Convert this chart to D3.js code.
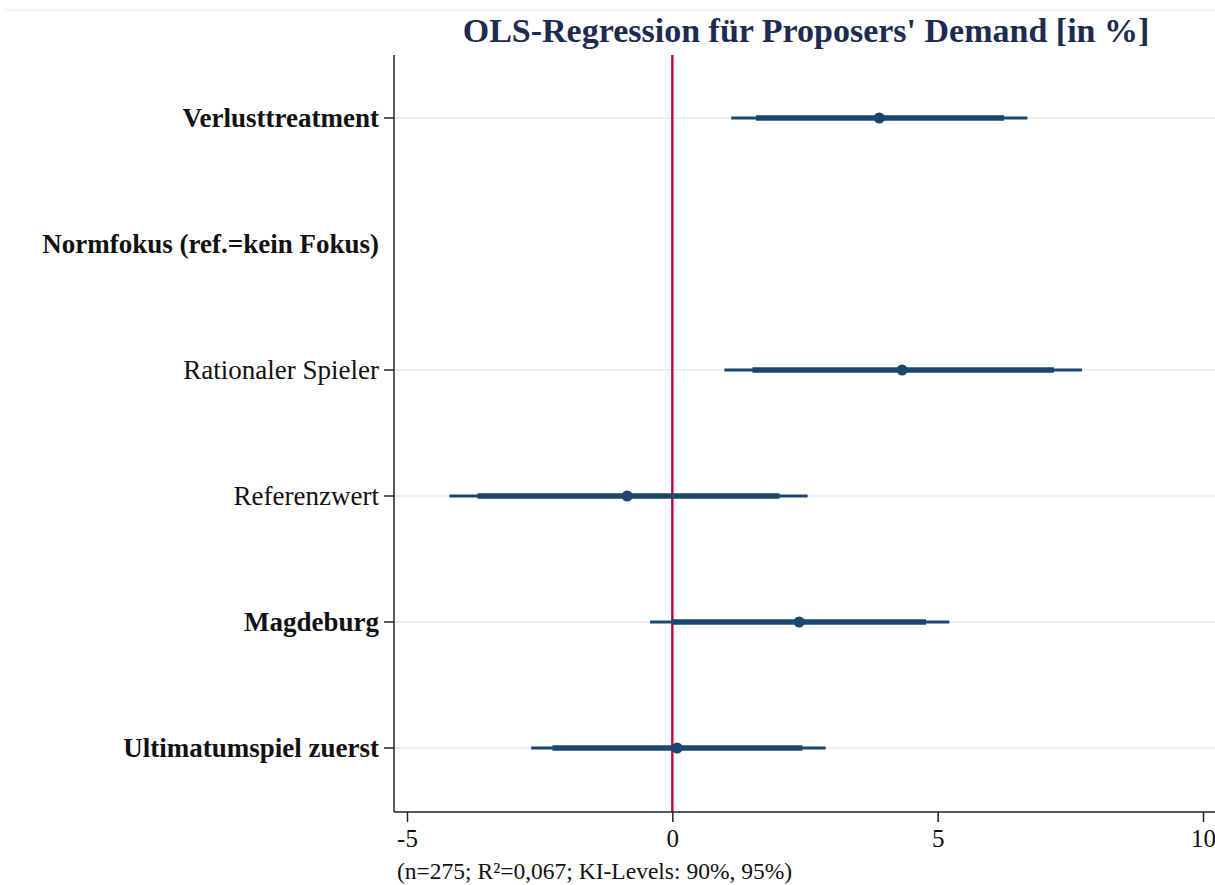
<!DOCTYPE html>
<html>
<head>
<meta charset="utf-8">
<script src="https://cdn.jsdelivr.net/npm/d3@7"></script>
<style>
  body { margin: 0; background: #fff; }
  svg { display: block; font-family: "Liberation Serif", "DejaVu Serif", serif; }
</style>
</head>
<body>
<svg id="chart"></svg>
<script>
// coefficient rows, top to bottom (null = header row without estimate)
const labels = ["Verlusttreatment", "Normfokus (ref.=kein Fokus)", "Rationaler Spieler", "Referenzwert", "Magdeburg", "Ultimatumspiel zuerst"];
const boldRow = [true, true, false, false, true, true];
const coef = [3.90, null, 4.33, -0.85, 2.39, 0.09];
const lo95 = [1.11, null, 0.98, -4.20, -0.42, -2.66];
const hi95 = [6.69, null, 7.72, 2.55, 5.22, 2.89];
const lo90 = [1.58, null, 1.51, -3.67, 0.00, -2.26];
const hi90 = [6.25, null, 7.19, 2.02, 4.78, 2.45];
const xTicks = [-5, 0, 5, 10];

const W = 1215, H = 885;
const svg = d3.select("#chart").attr("width", W).attr("height", H);

const plotL = 394, plotR = 1215, plotT = 55, plotB = 812;
const navy = "#1a476f";

const x = d3.scaleLinear().domain([-5, 10]).range([407, 1203]);
const y = d3.scaleBand().domain(d3.range(labels.length)).range([55, 811]);
const yc = i => y(i) + y.bandwidth() / 2;

// outer frame line at top
svg.append("line").attr("x1", 5).attr("x2", W).attr("y1", 10).attr("y2", 10)
  .attr("stroke", "#eceff1").attr("stroke-width", 1.5);

// title
svg.append("text").attr("x", 806).attr("y", 42).attr("text-anchor", "middle")
  .attr("font-size", 34).attr("font-weight", "bold").attr("fill", "#1e2b50")
  .text("OLS-Regression für Proposers' Demand [in %]");

const rows = d3.range(labels.length);
const est = rows.filter(i => coef[i] !== null);

// gridlines
svg.append("g").selectAll("line").data(est).join("line")
  .attr("x1", plotL).attr("x2", plotR).attr("y1", yc).attr("y2", yc)
  .attr("stroke", "#eaf0f2").attr("stroke-width", 2);

// zero line
svg.append("line").attr("x1", x(0)).attr("x2", x(0)).attr("y1", plotT).attr("y2", plotB)
  .attr("stroke", "#c10534").attr("stroke-width", 2.4);

// CIs
svg.append("g").selectAll("line").data(est).join("line")
  .attr("x1", i => x(lo95[i])).attr("x2", i => x(hi95[i]))
  .attr("y1", yc).attr("y2", yc).attr("stroke", navy).attr("stroke-width", 3);
svg.append("g").selectAll("line").data(est).join("line")
  .attr("x1", i => x(lo90[i])).attr("x2", i => x(hi90[i]))
  .attr("y1", yc).attr("y2", yc).attr("stroke", navy).attr("stroke-width", 5.5);

// markers
svg.append("g").selectAll("circle").data(est).join("circle")
  .attr("cx", i => x(coef[i])).attr("cy", yc).attr("r", 5.5).attr("fill", navy);

// y axis
const yAxis = svg.append("g").attr("transform", `translate(${plotL},0)`);
yAxis.append("line").attr("x1", 0).attr("x2", 0).attr("y1", plotT).attr("y2", plotB)
  .attr("stroke", "#222").attr("stroke-width", 1.5);
yAxis.selectAll(".tk").data(est).join("line").attr("class", "tk")
  .attr("x1", -10).attr("x2", 0).attr("y1", yc).attr("y2", yc)
  .attr("stroke", "#222").attr("stroke-width", 1.5);
yAxis.selectAll("text").data(rows).join("text")
  .attr("x", -15).attr("y", yc).attr("dy", "0.35em").attr("text-anchor", "end")
  .attr("font-size", 27).attr("fill", "#111")
  .attr("font-weight", i => boldRow[i] ? "bold" : "normal")
  .text(i => labels[i]);

// x axis
const xAxis = svg.append("g").attr("transform", `translate(0,${plotB})`)
  .call(d3.axisBottom(x).tickValues(xTicks).tickSize(10).tickPadding(7).tickFormat(d => String(d)));
xAxis.select(".domain").attr("d", `M${plotL},0H${plotR}`).attr("stroke", "#222").attr("stroke-width", 1.5);
xAxis.selectAll(".tick line").attr("stroke", "#222").attr("stroke-width", 1.5);
xAxis.selectAll(".tick text").attr("font-size", 25).attr("fill", "#111")
  .attr("font-family", "Liberation Serif, serif");

// note
svg.append("text").attr("x", 397).attr("y", 879).attr("font-size", 23.5).attr("fill", "#111")
  .text("(n=275; R²=0,067; KI-Levels: 90%, 95%)");
</script>
</body>
</html>
